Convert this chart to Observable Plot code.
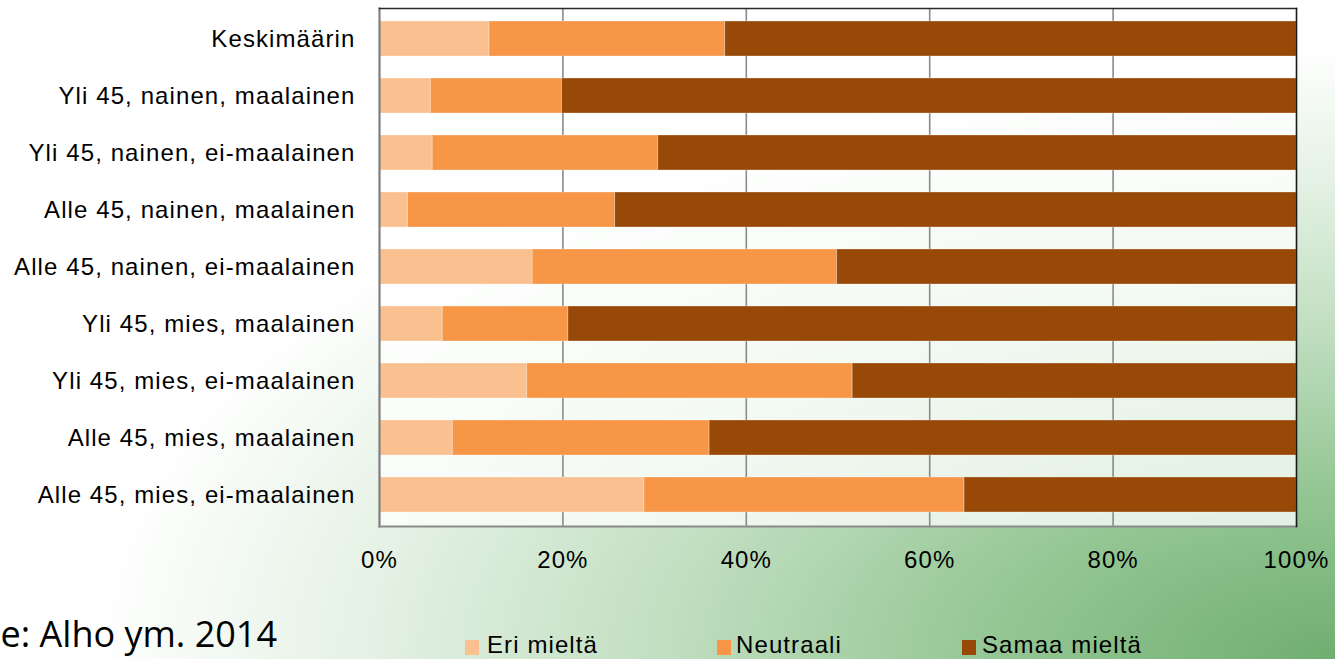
<!DOCTYPE html>
<html>
<head>
<meta charset="utf-8">
<script src="https://cdn.jsdelivr.net/npm/d3@7"></script>
<script src="https://cdn.jsdelivr.net/npm/@observablehq/plot@0.6"></script>
<style>
  html, body { margin: 0; padding: 0; }
  body {
    width: 1335px; height: 659px; overflow: hidden; position: relative;
    background: radial-gradient(ellipse farthest-corner at 100% 100%, #70ae70 0%, #94c694 18%, #c2dfc2 36%, #e6f2e6 52%, #ffffff 66%);
  }
  #chart { position: absolute; left: 0; top: 0; }
  .legend-swatch { position: absolute; width: 14px; height: 15px; top: 640px; }
  .legend-text, .caption { position: absolute; white-space: nowrap; color: #000; }
  .legend-text { font-family: "Liberation Sans", Arial, sans-serif; font-size: 24px; line-height: 24px; letter-spacing: 1.1px; top: 633px; }
  .caption { font-family: "Open Sans", "Noto Sans", sans-serif; font-size: 36px; line-height: 36px; right: 1058px; top: 616px; }
</style>
</head>
<body>
<div id="chart"></div>
<div id="legend"></div>
<div class="caption" id="caption"></div>
<script>
const categories = [
  "Keskimäärin",
  "Yli 45, nainen, maalainen",
  "Yli 45, nainen, ei-maalainen",
  "Alle 45, nainen, maalainen",
  "Alle 45, nainen, ei-maalainen",
  "Yli 45, mies, maalainen",
  "Yli 45, mies, ei-maalainen",
  "Alle 45, mies, maalainen",
  "Alle 45, mies, ei-maalainen"
];
const seriesNames = ["Eri mieltä", "Neutraali", "Samaa mieltä"];
const eriMielta   = [12.0, 5.6, 5.8, 3.1, 16.7, 6.9, 16.1, 8.0, 28.9];
const neutraali   = [25.7, 14.3, 24.6, 22.6, 33.2, 13.7, 35.5, 28.0, 34.9];
const samaaMielta = [62.3, 80.1, 69.6, 74.3, 50.1, 79.4, 48.4, 64.0, 36.2];
const xTicks = [0, 20, 40, 60, 80, 100];
const gridTicks = [20, 40, 60, 80];
const seriesColors = ["#FAC090", "#F79646", "#984807"];
const captionText = "Lähde: Alho ym. 2014";

const seriesValues = [eriMielta, neutraali, samaaMielta];
const data = categories.flatMap((c, i) =>
  seriesNames.map((s, j) => ({category: c, series: s, value: seriesValues[j][i]}))
);

const chart = Plot.plot({
  width: 1335,
  height: 590,
  marginLeft: 379,
  marginRight: 39,
  marginTop: 8,
  marginBottom: 64,
  style: {
    fontFamily: "'Liberation Sans', Arial, sans-serif",
    fontSize: "24px",
    letterSpacing: "1.1px",
    color: "#000",
    background: "transparent",
    overflow: "visible"
  },
  x: {domain: [0, 100], ticks: xTicks, tickFormat: d => d + "%", tickSize: 0, tickPadding: 24, label: null},
  y: {domain: categories, paddingInner: 0.38, paddingOuter: 0.19, tickSize: 0, tickPadding: 24, label: null},
  color: {domain: seriesNames, range: seriesColors},
  marks: [
    Plot.frame({fill: "#ffffff", fillOpacity: 0.75, stroke: null}),
    Plot.ruleX(gridTicks, {stroke: "#8a8a8a", strokeWidth: 1.6}),
    Plot.barX(data, {x: "value", y: "category", fill: "series", order: seriesNames, stroke: "#ffffff", strokeOpacity: 0.3, strokeWidth: 1}),
    Plot.frame({anchor: "left", stroke: "#7f7f7f", strokeWidth: 2.2}),
    Plot.frame({anchor: "bottom", stroke: "#8a8a8a", strokeWidth: 2.2}),
    Plot.frame({anchor: "top", stroke: "#2a2a2a", strokeWidth: 1.6}),
    Plot.frame({anchor: "right", stroke: "#1a1a1a", strokeWidth: 1.6})
  ]
});
document.getElementById("chart").appendChild(chart);

// Legend (HTML, below the plot)
const legendPos = [[465, 487], [717, 736], [962, 982]];
const legend = document.getElementById("legend");
seriesNames.forEach((s, i) => {
  const sw = document.createElement("div");
  sw.className = "legend-swatch";
  sw.style.left = legendPos[i][0] + "px";
  sw.style.background = seriesColors[i];
  legend.appendChild(sw);
  const tx = document.createElement("div");
  tx.className = "legend-text";
  tx.style.left = legendPos[i][1] + "px";
  tx.textContent = s;
  legend.appendChild(tx);
});
document.getElementById("caption").textContent = captionText;
</script>
</body>
</html>
